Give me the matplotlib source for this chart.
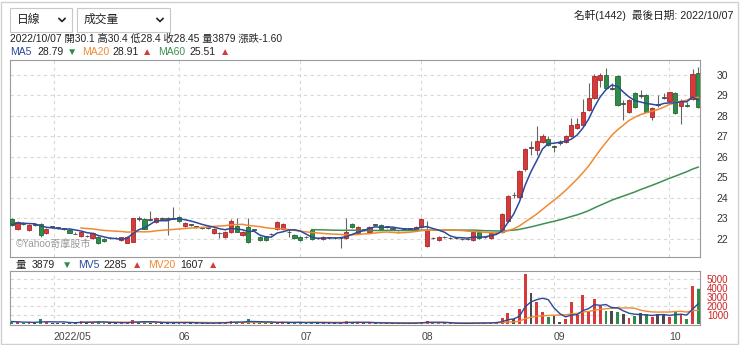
import numpy as np
import pandas as pd
import matplotlib
matplotlib.use('Agg')
import matplotlib.pyplot as plt
from matplotlib.patches import Rectangle
from matplotlib.lines import Line2D

plt.rcParams['font.family'] = ['Liberation Sans', 'Noto Sans CJK TC', 'DejaVu Sans']

# daily candles, 2022/04/20 - 2022/10/07
opens = [22.95, 22.5, 22.8, 22.45, 22.7, 22.75, 22.3, 22.6, 22.55, 22.5,
         22.45, 22.25, 22.15, 22.15, 22.05, 22.1, 22.0, 22.05, 22.05, 21.95,
         21.8, 21.85, 23.0, 22.95, 22.95, 22.85, 23.0, 23.0, 23.0, 23.05,
         22.65, 22.7, 22.6, 22.55, 22.55, 22.3, 22.3, 22.1, 22.35, 22.65,
         22.2, 22.6, 22.45, 22.1, 22.1, 22.25, 22.5, 22.5, 22.35, 22.2,
         22.1, 22.1, 22.45, 22.05, 22.0, 22.05, 22.05, 22.05, 22.05, 22.75,
         22.3, 22.45, 22.35, 22.7, 22.7, 22.6, 22.5, 22.35, 22.5, 22.5,
         22.45, 22.6, 21.65, 22.05, 21.95, 22.1, 22.05, 22.05, 22.0, 22.0,
         21.95, 22.35, 22.1, 22.05, 22.3, 22.35, 22.9, 24.15, 24.05, 25.4,
         26.45, 26.35, 26.75, 26.9, 26.5, 26.7, 26.75, 27.0, 27.4, 27.55,
         28.3, 28.9, 29.75, 30.0, 29.35, 29.95, 28.6, 28.2, 29.1, 29.0,
         29.0, 27.95, 28.55, 28.9, 28.75, 29.1, 28.5, 28.55, 28.85, 30.1]
highs = [23.0, 22.9, 22.85, 22.75, 22.75, 22.8, 22.55, 22.65, 22.6, 22.55,
         22.5, 22.35, 22.4, 22.2, 22.35, 22.15, 22.05, 22.1, 22.1, 22.1,
         22.15, 23.0, 23.1, 23.0, 23.35, 23.05, 23.05, 23.05, 23.55, 23.1,
         22.85, 22.75, 22.65, 22.6, 22.6, 22.55, 22.35, 22.4, 22.95, 23.0,
         22.4, 23.0, 22.5, 22.15, 22.15, 22.3, 22.9, 22.8, 22.45, 22.25,
         22.15, 22.15, 22.5, 22.1, 22.15, 22.1, 22.1, 22.1, 23.0, 22.8,
         22.65, 22.5, 22.65, 22.75, 22.75, 22.65, 22.55, 22.4, 22.55, 22.55,
         22.65, 23.0, 22.9, 22.1, 22.15, 22.15, 22.1, 22.1, 22.05, 22.05,
         22.4, 22.4, 22.15, 22.35, 22.35, 23.25, 24.15, 24.3, 25.35, 26.45,
         26.8, 27.5, 27.1, 27.0, 26.6, 26.85, 27.05, 27.9, 27.9, 28.85,
         29.6, 30.05, 30.1, 30.35, 29.6, 30.0, 28.8, 28.85, 29.15, 29.25,
         29.05, 28.45, 29.0, 29.1, 29.15, 29.15, 28.85, 28.7, 30.3, 30.4]
lows = [22.65, 22.45, 22.7, 22.4, 22.65, 22.1, 22.25, 22.55, 22.5, 22.45,
        22.3, 22.25, 22.1, 22.1, 22.0, 21.75, 21.85, 22.0, 22.0, 21.9,
        21.8, 21.85, 22.9, 22.5, 22.9, 22.8, 22.95, 22.2, 22.95, 22.85,
        22.6, 22.65, 22.55, 22.5, 22.5, 22.25, 22.05, 22.05, 22.3, 22.35,
        22.15, 21.8, 22.4, 21.9, 21.9, 22.2, 22.45, 22.45, 22.1, 22.0,
        21.9, 22.05, 21.95, 22.0, 21.95, 22.0, 22.0, 21.55, 22.0, 22.55,
        22.25, 22.4, 22.3, 22.65, 22.45, 22.55, 22.45, 22.3, 22.45, 22.45,
        22.4, 22.55, 21.6, 22.0, 21.9, 22.05, 22.0, 22.0, 21.95, 21.95,
        21.9, 22.0, 22.05, 22.0, 22.25, 22.3, 22.85, 24.0, 24.0, 25.3,
        26.1, 26.1, 26.7, 26.55, 26.25, 26.6, 26.7, 26.95, 27.35, 27.5,
        28.25, 28.85, 29.4, 29.35, 29.25, 28.5, 27.8, 28.15, 28.4, 28.9,
        28.2, 27.8, 28.45, 28.85, 28.7, 28.1, 27.6, 28.45, 28.8, 28.4]
closes = [22.7, 22.85, 22.75, 22.7, 22.7, 22.2, 22.5, 22.6, 22.55, 22.5,
          22.3, 22.25, 22.35, 22.15, 22.3, 21.8, 21.9, 22.05, 22.05, 22.1,
          22.1, 23.0, 23.0, 22.5, 22.95, 23.0, 23.0, 23.0, 23.0, 22.9,
          22.8, 22.7, 22.6, 22.55, 22.55, 22.5, 22.3, 22.35, 22.9, 22.35,
          22.35, 21.85, 22.45, 21.95, 21.95, 22.25, 22.85, 22.75, 22.35, 22.05,
          21.95, 22.1, 22.0, 22.05, 22.1, 22.05, 22.05, 22.05, 22.35, 22.6,
          22.6, 22.45, 22.6, 22.7, 22.5, 22.6, 22.5, 22.35, 22.5, 22.5,
          22.6, 22.95, 22.45, 22.05, 22.1, 22.1, 22.05, 22.05, 22.0, 22.0,
          22.35, 22.05, 22.1, 22.3, 22.3, 23.2, 24.1, 24.15, 25.3, 26.4,
          26.45, 26.8, 27.0, 26.6, 26.5, 26.7, 27.0, 27.55, 27.6, 28.2,
          28.9, 29.95, 30.0, 29.35, 29.35, 28.55, 28.6, 28.8, 28.45, 29.0,
          28.2, 28.4, 28.55, 28.9, 29.15, 28.15, 28.75, 28.5, 30.05, 28.45]
volumes = [320, 260, 180, 220, 150, 570, 300, 200, 150, 180,
           260, 150, 420, 180, 250, 350, 200, 150, 120, 200,
           300, 450, 260, 300, 200, 180, 160, 200, 250, 220,
           200, 150, 130, 120, 150, 200, 250, 200, 350, 300,
           200, 570, 180, 250, 220, 150, 300, 250, 180, 200,
           220, 150, 300, 150, 180, 140, 150, 200, 350, 250,
           200, 150, 200, 180, 150, 130, 120, 150, 140, 130,
           180, 300, 400, 200, 150, 130, 120, 110, 120, 130,
           200, 180, 150, 200, 300, 700, 1220, 600, 1660, 5480,
           3400, 2420, 1400, 860, 960, 310, 600, 2420, 1040, 3220,
           1400, 2750, 2060, 1480, 1480, 1330, 1110, 750, 930, 1290,
           1110, 860, 1110, 1040, 860, 1500, 1100, 650, 4200, 3879]

month_pos = [7.3, 29, 50, 71, 94, 114]
month_labels = ['2022/05', '06', '07', '08', '09', '10']
price_ticks = [22, 23, 24, 25, 26, 27, 28, 29, 30]
vol_ticks = [1000, 2000, 3000, 4000, 5000]

RED = '#d63a3a'
GREEN = '#2f8c48'
FLAT = '#4a4a4a'
BLUE = '#2b4a9c'
ORANGE = '#f08a32'
MGREEN = '#3f8f52'
GRID = '#d8d8d8'

df = pd.DataFrame({'o': opens, 'h': highs, 'l': lows, 'c': closes, 'v': volumes})
x = np.arange(len(df))
ma5 = df['c'].rolling(5, min_periods=1).mean()
ma20 = df['c'].rolling(20, min_periods=13).mean()
ma60 = df['c'].rolling(60, min_periods=53).mean()
mv5 = df['v'].rolling(5, min_periods=1).mean()
mv20 = df['v'].rolling(20, min_periods=13).mean()

colors = np.where(df['c'] > df['o'], RED, np.where(df['c'] < df['o'], GREEN, FLAT))
edges = np.where(df['c'] > df['o'], '#a82828', np.where(df['c'] < df['o'], '#1f6a33', FLAT))

W, H = 740, 345
fig = plt.figure(figsize=(W / 100, H / 100), dpi=100)
fig.patch.set_facecolor('white')

# outer frame
fig.add_artist(Rectangle((1 / W, 1 / H), 737 / W, 342 / H, transform=fig.transFigure,
                         fill=False, edgecolor='#d0d0d0', lw=1))

ax = fig.add_axes([10 / W, (H - 257) / H, 690 / W, 197 / H])
axv = fig.add_axes([10 / W, (H - 325) / H, 690 / W, 54 / H], sharex=ax)

# candles
body_lo = np.minimum(df['o'], df['c'])
body_h = np.maximum(np.abs(df['c'] - df['o']), 0.025)
ax.vlines(x, df['l'], df['h'], color='#666666', lw=0.8, zorder=2)
ax.bar(x, body_h, bottom=body_lo - np.where(df['c'] == df['o'], 0.0125, 0), width=0.72,
       color=colors, edgecolor=edges, linewidth=0.6, zorder=3)
ax.plot(x, ma60, color=MGREEN, lw=1.1, zorder=4)
ax.plot(x, ma20, color=ORANGE, lw=1.1, zorder=4)
ax.plot(x, ma5, color=BLUE, lw=1.1, zorder=5)

ax.set_xlim(-0.3, 119.3)
ax.set_ylim(21.12, 30.73)
ax.yaxis.tick_right()
ax.set_yticks(price_ticks)
ax.tick_params(axis='y', length=0, pad=12, labelsize=7.5, labelcolor='#333333')
ax.tick_params(axis='x', length=0, labelbottom=False)
ax.set_xticks(month_pos)
ax.grid(True, color=GRID, ls=(0, (3, 3)), lw=0.8)
for s in ax.spines.values():
    s.set_color('#9a9a9a')

ax.text(0.008, 0.035, '©Yahoo奇摩股市', transform=ax.transAxes, fontsize=7.2,
        color='#9a9a9a', va='bottom')

# volume
axv.bar(x, df['v'], width=0.5, color=colors, zorder=3)
axv.plot(x, mv20, color=ORANGE, lw=1.0, zorder=4)
axv.plot(x, mv5, color=BLUE, lw=1.0, zorder=5)
axv.set_ylim(-60, 5850)
axv.yaxis.tick_right()
axv.set_yticks(vol_ticks)
axv.tick_params(axis='y', length=0, pad=5, labelsize=7, labelcolor='#cc2222')
axv.set_xticks(month_pos)
axv.set_xticklabels(month_labels)
axv.tick_params(axis='x', length=0, pad=5, labelsize=7.5, labelcolor='#444444')
for lab in axv.get_xticklabels():
    lab.set_horizontalalignment('left')
axv.grid(True, color=GRID, ls=(0, (3, 3)), lw=0.8)
for s in axv.spines.values():
    s.set_color('#9a9a9a')

# header
def ftext(px, py, s, color='#222222', size=7.5, ha='left'):
    fig.text(px / W, 1 - py / H, s, color=color, fontsize=size, ha=ha, va='center')

for bx, bw, label in [(10, 62, '日線'), (77, 93, '成交量')]:
    fig.add_artist(Rectangle((bx / W, 1 - 32 / H), bw / W, 24 / H, transform=fig.transFigure,
                             facecolor='white', edgecolor='#c8c8c8', lw=0.8))
    ftext(bx + 7, 20, label, size=8.5)
    cx = bx + bw - 10
    fig.add_artist(Line2D([(cx - 3) / W, cx / W, (cx + 3) / W],
                          [1 - 18.5 / H, 1 - 21.5 / H, 1 - 18.5 / H],
                          transform=fig.transFigure, color='#222222', lw=1.2))

ftext(733, 15, '名軒(1442)  最後日期: 2022/10/07', ha='right', size=7.7)
ftext(10, 39, '2022/10/07 開30.1 高30.4 低28.4 收28.45 量3879 漲跌-1.60', size=7.4)

for px, s, c in [(10, 'MA5', BLUE), (37, '28.79', '#222222'), (67, '▼', GREEN),
                 (82, 'MA20', ORANGE), (112, '28.91', '#222222'), (142, '▲', RED),
                 (158, 'MA60', MGREEN), (189, '25.51', '#222222'), (220, '▲', RED)]:
    ftext(px, 52, s, c)

for px, s, c in [(15, '量', '#222222'), (32, '3879', '#222222'), (62, '▼', GREEN),
                 (78, 'MV5', BLUE), (103, '2285', '#222222'), (132, '▲', RED),
                 (148, 'MV20', ORANGE), (180, '1607', '#222222'), (208, '▲', RED)]:
    ftext(px, 265, s, c)

fig.savefig('out.png', dpi=100)
